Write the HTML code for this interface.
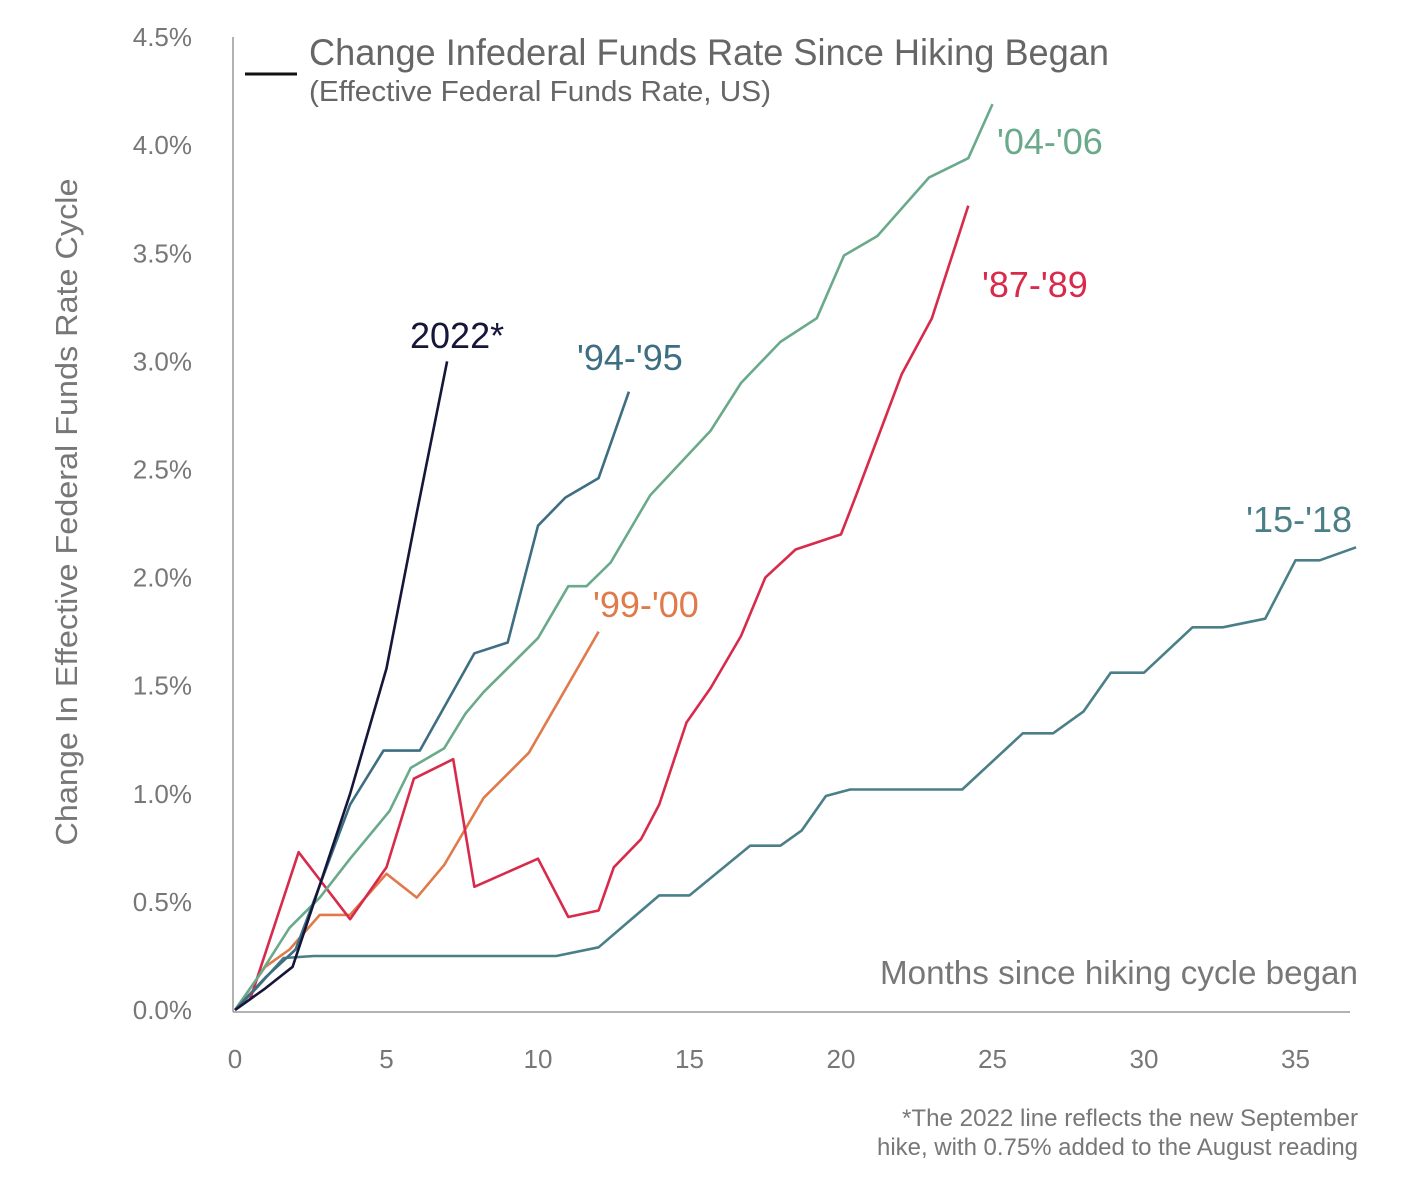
<!DOCTYPE html>
<html><head><meta charset="utf-8"><style>
body{margin:0;background:#fff;}
svg text{font-family:"Liberation Sans",sans-serif;}
</style></head><body>
<svg id="chart" width="1404" height="1176" xmlns="http://www.w3.org/2000/svg">
<g id="axes"></g><g id="series"></g>
<text x="309" y="65" font-size="37" fill="#666" textLength="800" lengthAdjust="spacingAndGlyphs">Change Infederal Funds Rate Since Hiking Began</text>
<text x="309" y="101" font-size="29" fill="#666" textLength="462" lengthAdjust="spacingAndGlyphs">(Effective Federal Funds Rate, US)</text>
<line x1="245" y1="74" x2="297" y2="74" stroke="#111" stroke-width="3"/>
<text transform="translate(77,512) rotate(-90)" text-anchor="middle" font-size="31" fill="#777" textLength="667" lengthAdjust="spacingAndGlyphs">Change In Effective Federal Funds Rate Cycle</text>
<text x="1358" y="984" text-anchor="end" font-size="33" fill="#777" textLength="478" lengthAdjust="spacingAndGlyphs">Months since hiking cycle began</text>
<text x="1358" y="1126" text-anchor="end" font-size="24" fill="#777" textLength="456" lengthAdjust="spacingAndGlyphs">*The 2022 line reflects the new September</text>
<text x="1358" y="1155" text-anchor="end" font-size="24" fill="#777" textLength="481" lengthAdjust="spacingAndGlyphs">hike, with 0.75% added to the August reading</text>
</svg>
<script>
const xTicks=[0,5,10,15,20,25,30,35];
const yTicks=[0,0.5,1,1.5,2,2.5,3,3.5,4,4.5];
const m2022=[0,1,1.9,3.8,5,6,7];
const v2022=[0,0.1,0.2,1.0,1.58,2.3,3.0];
const m9495=[0,1,2,3.8,4.9,6.1,7.9,9,10,10.9,12,13];
const v9495=[0,0.15,0.28,0.95,1.2,1.2,1.65,1.7,2.24,2.37,2.46,2.86];
const m0406=[0,0.8,1.8,2.8,3.8,5.1,5.8,6.9,7.6,8.2,10,11,11.6,12.4,13.7,15.7,16.7,18,19.2,20.1,21.2,22.9,24.2,25];
const v0406=[0,0.16,0.38,0.52,0.7,0.92,1.12,1.21,1.37,1.47,1.72,1.96,1.96,2.07,2.38,2.68,2.9,3.09,3.2,3.49,3.58,3.85,3.94,4.19];
const m8789=[0,0.5,2.1,3.8,5,5.9,7.2,7.9,10,11,12,12.5,13.4,14,14.9,15.7,16.7,17.5,18.5,20,20.5,22,23,24.2];
const v8789=[0,0.05,0.73,0.42,0.66,1.07,1.16,0.57,0.7,0.43,0.46,0.66,0.79,0.95,1.33,1.49,1.73,2.0,2.13,2.2,2.38,2.94,3.2,3.72];
const m9900=[0,1,1.8,2.8,3.8,5,6,6.9,8.2,9.7,12];
const v9900=[0,0.2,0.28,0.44,0.44,0.63,0.52,0.67,0.98,1.19,1.75];
const m1518=[0,0.7,1.6,2.6,10.6,12,14,15,17,18,18.7,19.5,20.3,24,26,27,28,28.9,30,31.6,32.6,34,35,35.8,37];
const v1518=[0,0.1,0.24,0.25,0.25,0.29,0.53,0.53,0.76,0.76,0.83,0.99,1.02,1.02,1.28,1.28,1.38,1.56,1.56,1.77,1.77,1.81,2.08,2.08,2.14];
const X=m=>235+m*30.3;
const Y=v=>1010-v*216.2;
const NS="http://www.w3.org/2000/svg";
const ax=document.getElementById('axes');
function mk(tag,at,parent,txt){const e=document.createElementNS(NS,tag);for(const k in at)e.setAttribute(k,at[k]);if(txt!==undefined)e.textContent=txt;parent.appendChild(e);return e;}
let l=mk('line',{x1:233,y1:37,x2:233,y2:1012,stroke:'#999','stroke-width':1.5},ax);


l=mk('line',{x1:233,y1:1012,x2:1350,y2:1012,stroke:'#999','stroke-width':1.5},ax);


xTicks.forEach(t=>{const e=mk('text',{x:X(t),y:1068,'text-anchor':'middle','font-size':26,fill:'#777'},ax,String(t));

});
yTicks.forEach(t=>{const e=mk('text',{x:192,y:Y(t)+9,'text-anchor':'end','font-size':26,fill:'#777'},ax,t.toFixed(1)+'%');

});
const sg=document.getElementById('series');
const S=[
 [m1518,v1518,'#4a7f88','series-2015-2018','\'15-\'18',1352,532,'end'],
 [m9900,v9900,'#e07a4a','series-1999-2000','\'99-\'00',593,617,'start'],
 [m8789,v8789,'#d82a4a','series-1987-1989','\'87-\'89',982,297,'start'],
 [m0406,v0406,'#6aaa8a','series-2004-2006','\'04-\'06',997,154,'start'],
 [m9495,v9495,'#3d6e82','series-1994-1995','\'94-\'95',577,370,'start'],
 [m2022,v2022,'#16163a','series-2022','2022*',410,348,'start']];
S.forEach(s=>{
 const d=s[0].map((m,i)=>(i?'L':'M')+X(m).toFixed(1)+','+Y(s[1][i]).toFixed(1)).join('');
 const p=mk('path',{d:d,fill:'none',stroke:s[2],'stroke-width':2.6,'stroke-linejoin':'round'},sg);
 
 
 const t=mk('text',{x:s[5],y:s[6],'text-anchor':s[7],'font-size':36,fill:s[2]},sg,s[4]);
 
 
});
</script>
</body></html>
